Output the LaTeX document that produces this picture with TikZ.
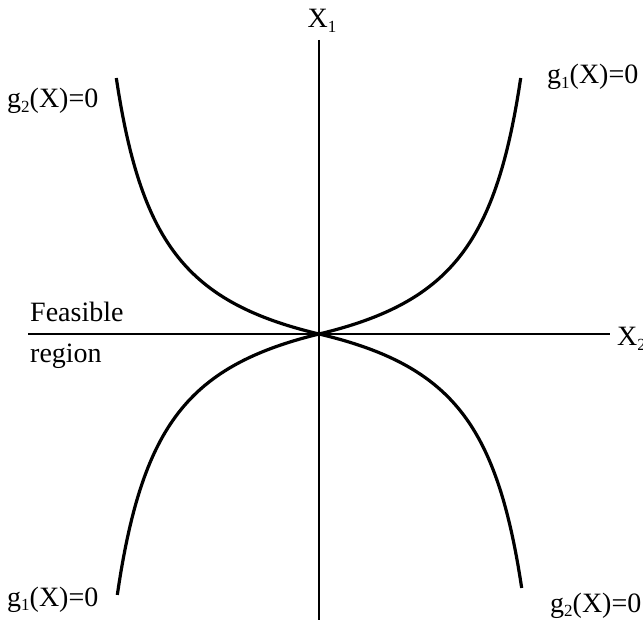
\documentclass[tikz,border=0pt]{standalone}
\usepackage{fontspec}
\setmainfont{Liberation Serif}
\newcommand{\lowsub}[1]{\raisebox{-0.35ex}{\fontsize{17}{17}\selectfont #1}}
\begin{document}
\begin{tikzpicture}[x=1pt,y=-1pt,
  axis/.style={line width=2.5pt},
  curve/.style={line width=3.2pt},
  lbl/.style={inner sep=0pt, font=\fontsize{28}{30}\selectfont}]
\useasboundingbox (0,0) rectangle (643,628);
\coordinate (O) at (319,334);
\coordinate (vt) at (319,40);
\coordinate (vb) at (319,620);
\coordinate (hl) at (28,334);
\coordinate (hr) at (610,334);
\draw[axis] (vt) -- (vb);
\draw[axis] (hl) -- (hr);
% curves
\draw[curve, shift={(O)}] plot[domain=0:1, samples=100] ({202*\x}, {-258*0.23*\x/(1.23-\x)});
\draw[curve, shift={(O)}] plot[domain=0:1, samples=100] ({-203*\x}, {-258*0.23*\x/(1.23-\x)});
\draw[curve, shift={(O)}] plot[domain=0:1, samples=100] ({-202*\x}, {263*0.23*\x/(1.23-\x)});
\draw[curve, shift={(O)}] plot[domain=0:1, samples=100] ({203*\x}, {256*0.23*\x/(1.23-\x)});
% labels
\node[lbl, anchor=base] (x1) at (322,28) {X\lowsub{1}};
\node[lbl, anchor=base west] (x2) at (617,346) {X\lowsub{2}};
\node[lbl, anchor=base west] (tl) at (7,108) {g\lowsub{2}(X)=0};
\node[lbl, anchor=base west] (tr) at (547,84) {g\lowsub{1}(X)=0};
\node[lbl, anchor=base west] (bl) at (7,606) {g\lowsub{1}(X)=0};
\node[lbl, anchor=base west] (br) at (550,612) {g\lowsub{2}(X)=0};
\node[lbl, anchor=base west] (fe) at (30,322) {Feasible};
\node[lbl, anchor=base west] (re) at (30,363) {region};
\end{tikzpicture}
\end{document}
